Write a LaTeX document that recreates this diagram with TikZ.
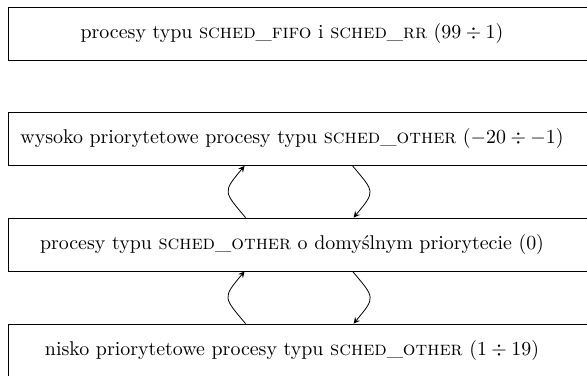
\documentclass[tikz,border=0pt]{standalone}
\usetikzlibrary{calc}
\begin{document}
\begin{tikzpicture}[x=0.01766cm,y=0.01766cm,
  box/.style={draw, minimum width=11.3cm, minimum height=0.935cm, inner sep=0pt},
  lbl/.style={inner sep=0pt}]
  \useasboundingbox (0,0) rectangle (587,376);
  \clip (0,0) rectangle (587,376);
  % priority classes, from the highest to the lowest
  \node[box] (rtbox) at (328,342.5) {};
  \node[lbl] (rt) at (292,342.5) {procesy typu \textsc{sched\_fifo} i \textsc{sched\_rr} $(99 \div 1)$};
  \node[box] (highbox) at (328,237) {};
  \node[lbl] (high) at (292,237) {wysoko priorytetowe procesy typu \textsc{sched\_other} $(-20 \div -1)$};
  \node[box] (normalbox) at (328,131.5) {};
  \node[lbl] (normal) at (292,131.5) {procesy typu \textsc{sched\_other} o domyślnym priorytecie $(0)$};
  \node[box] (lowbox) at (328,25.5) {};
  \node[lbl] (low) at (292,25.5) {nisko priorytetowe procesy typu \textsc{sched\_other} $(1 \div 19)$};
  % priority changes
  \draw[-stealth] ($(normalbox.north west)+(238,0)$) to[out=130,in=-130,looseness=1.7] ($(highbox.south west)+(237,0)$);
  \draw[-stealth] ($(highbox.south west)+(345,0)$) to[out=-50,in=50,looseness=1.7] ($(normalbox.north west)+(346,0)$);
  \draw[-stealth] ($(lowbox.north west)+(238,0)$) to[out=130,in=-130,looseness=1.7] ($(normalbox.south west)+(237,0)$);
  \draw[-stealth] ($(normalbox.south west)+(345,0)$) to[out=-50,in=50,looseness=1.7] ($(lowbox.north west)+(346,0)$);
\end{tikzpicture}
\end{document}
